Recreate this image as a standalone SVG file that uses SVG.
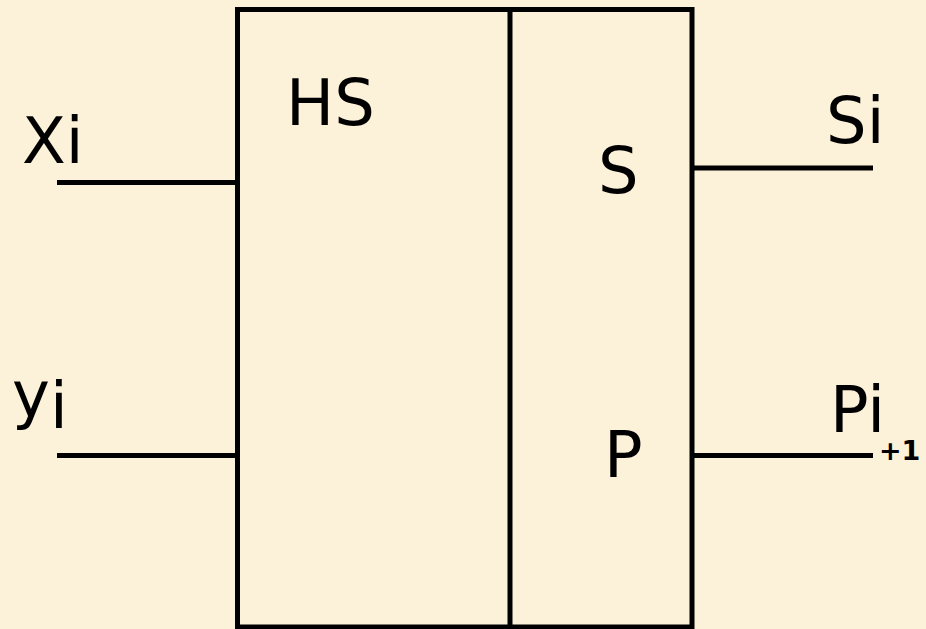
<svg xmlns="http://www.w3.org/2000/svg" width="926" height="629" viewBox="0 0 926 629">
<style>
.ln{stroke:#000;stroke-width:5;fill:none}
.t{font-family:"DejaVu Sans",sans-serif;font-size:64px;fill:#000}
.sub{font-family:"DejaVu Sans",sans-serif;font-size:27px;font-weight:bold;fill:#000}
</style>
<rect x="0" y="0" width="926" height="629" fill="#FCF1D9"/>
<g id="block">
<rect class="ln" x="237.5" y="9.5" width="454.5" height="617.5"/>
<line class="ln" x1="510" y1="9.5" x2="510" y2="627"/>
</g>
<g id="hs"><text class="t" x="286" y="125">HS</text></g>
<g id="s"><text class="t" x="598" y="193">S</text></g>
<g id="p"><text class="t" x="604" y="477">P</text></g>
<g id="connectors">
<line class="ln" x1="57" y1="182.5" x2="237.5" y2="182.5"/>
<line class="ln" x1="57" y1="455.5" x2="237.5" y2="455.5"/>
<line class="ln" x1="692" y1="168" x2="873" y2="168"/>
<line class="ln" x1="692" y1="455.5" x2="873" y2="455.5"/>
</g>
<g id="xi"><text class="t" x="22" y="163">Xi</text></g>
<g id="yi"><text class="t" x="12" y="417">y<tspan y="428">i</tspan></text></g>
<g id="si"><text class="t" x="826" y="143">Si</text></g>
<g id="pi1"><text class="t" x="830" y="432">Pi</text><text class="sub" x="879" y="460">+1</text></g>
</svg>
